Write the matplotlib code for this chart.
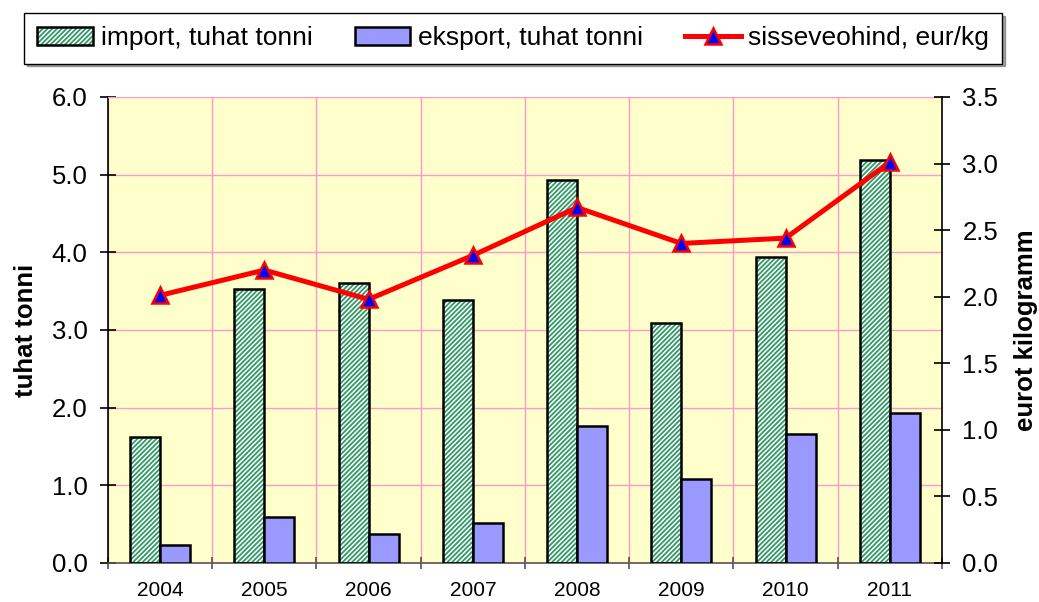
import matplotlib.pyplot as plt
from matplotlib.patches import Patch
from matplotlib.lines import Line2D

plt.rcParams['font.family'] = ['Liberation Sans', 'DejaVu Sans']
plt.rcParams['hatch.linewidth'] = 1.3

years = ["2004", "2005", "2006", "2007", "2008", "2009", "2010", "2011"]
imports = [1.62, 3.53, 3.61, 3.38, 4.93, 3.09, 3.94, 5.19]
exports = [0.23, 0.59, 0.37, 0.51, 1.76, 1.08, 1.66, 1.93]
price = [2.01, 2.20, 1.98, 2.31, 2.67, 2.40, 2.44, 3.01]

left_ticks = [0.0, 1.0, 2.0, 3.0, 4.0, 5.0, 6.0]
right_ticks = [0.0, 0.5, 1.0, 1.5, 2.0, 2.5, 3.0, 3.5]

green = "#339966"
blue_bar = "#9999FF"
pink = "#FF99CC"

fig = plt.figure(figsize=(10.39, 6.02), dpi=100)
ax = fig.add_axes([0.1039, 0.0648, 0.8027, 0.7741])
ax.set_facecolor("#FFFFCC")

x = list(range(len(years)))
w = 0.288
hatch = "///////"
x_imp = [i - w / 2 for i in x]
x_exp = [i + w / 2 for i in x]

ax.bar(x_imp, imports, w, facecolor="white", edgecolor=green, hatch=hatch, linewidth=0, zorder=2)
ax.bar(x_imp, imports, w, fill=False, edgecolor="black", linewidth=1.8, zorder=3)
ax.bar(x_exp, exports, w, facecolor=blue_bar, edgecolor="black", linewidth=1.8, zorder=3)

ax.set_xlim(-0.5, len(years) - 0.5)
ax.set_ylim(0, 6)
ax.set_yticks(left_ticks)
ax.set_yticklabels(["%.1f" % v for v in left_ticks])
ax.set_xticks([i - 0.5 for i in range(len(years) + 1)])
ax.set_xticklabels([])
ax.set_xticks(x, minor=True)
ax.set_xticklabels(years, minor=True, fontsize=15)
ax.tick_params(axis="x", which="minor", length=0, pad=13)
ax.tick_params(axis="x", which="major", direction="inout", length=8.6, width=1.2, color="#555555")
ax.tick_params(axis="y", direction="inout", length=11.5, width=1.2, labelsize=18.5, pad=9)

ax.set_axisbelow(True)
ax.grid(True, which="major", color=pink, linewidth=1)
ax.spines["top"].set_color(pink)
ax.spines["right"].set_visible(False)
ax.spines["left"].set_linewidth(1.2)
ax.spines["bottom"].set_color("#555555")
ax.spines["bottom"].set_linewidth(1.2)
ax.set_ylabel("tuhat tonni", fontsize=18.5, fontweight="bold", labelpad=10)

ax2 = ax.twinx()
ax2.plot(x, price, color="red", linewidth=3.6, marker="^", markersize=11,
         markerfacecolor="blue", markeredgecolor="red", markeredgewidth=1.8, zorder=5)
ax2.set_ylim(0, 3.5)
ax2.set_yticks(right_ticks)
ax2.set_yticklabels(["%.1f" % v for v in right_ticks])
ax2.tick_params(axis="y", direction="inout", length=11.5, width=1.2, labelsize=18.5, pad=9)
ax2.spines["top"].set_visible(False)
ax2.spines["left"].set_visible(False)
ax2.spines["bottom"].set_visible(False)
ax2.spines["right"].set_linewidth(1.2)
ax2.set_ylabel("eurot kilogramm", fontsize=18.5, fontweight="bold", labelpad=11)

h_imp = (Patch(facecolor="white", edgecolor=green, hatch=hatch, linewidth=0),
         Patch(fill=False, edgecolor="black", linewidth=1.8))
h_exp = Patch(facecolor=blue_bar, edgecolor="black", linewidth=1.8)
h_line = Line2D([], [], color="red", linewidth=3.6, marker="^", markersize=11,
                markerfacecolor="blue", markeredgecolor="red", markeredgewidth=1.8)
leg = fig.legend([h_imp, h_exp, h_line],
                 ["import, tuhat tonni", "eksport, tuhat tonni", "sisseveohind, eur/kg"],
                 loc="upper center", bbox_to_anchor=(0.494, 1.0), ncol=3, fontsize=19,
                 frameon=True, fancybox=False, shadow=True, framealpha=1,
                 edgecolor="black", handlelength=2.1, handletextpad=0.3,
                 columnspacing=1.6, borderpad=0.5)
leg.get_frame().set_linewidth(1.0)

fig.savefig("out.png", dpi=100)
